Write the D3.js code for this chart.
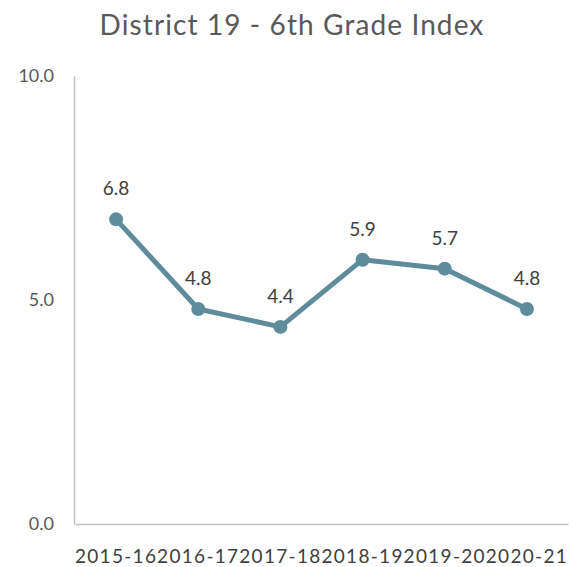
<!DOCTYPE html>
<html><head><meta charset="utf-8">
<script src="https://cdn.jsdelivr.net/npm/d3@7"></script>
<style>body{margin:0;background:#fff}svg{display:block}</style>
</head><body>
<svg id="chart" width="573" height="567"></svg>
<script>
const title = "District 19 - 6th Grade Index";
const categories = ["2015-16","2016-17","2017-18","2018-19","2019-20","2020-21"];
const values = [6.8, 4.8, 4.4, 5.9, 5.7, 4.8];
const yTicks = [0, 5, 10];

const svg = d3.select("#chart");
const font = "'Gill Sans','Gill Sans MT',Lato,'Open Sans',sans-serif";
const m = {left: 75, right: 5, top: 76, bottom: 43};
const W = 573, H = 567;
const x = d3.scaleBand().domain(categories).range([m.left, W - m.right]).padding(0);
const y = d3.scaleLinear().domain([0, 10]).range([H - m.bottom, m.top]);

svg.append("text").attr("x", 292).attr("y", 35).attr("text-anchor", "middle")
  .attr("font-family", font).attr("font-size", 28).attr("letter-spacing", 1.1)
  .attr("fill", "#595959").text(title);

const yAxis = svg.append("g").attr("transform", `translate(${m.left - 1},0)`)
  .call(d3.axisLeft(y).tickValues(yTicks).tickFormat(d3.format(".1f")).tickSize(0).tickPadding(20));
yAxis.select(".domain").attr("stroke", "#bfbfbf").attr("stroke-width", 1.5);
yAxis.selectAll("text").attr("font-family", font).attr("font-size", 18).attr("fill", "#595959");

const xAxis = svg.append("g").attr("transform", `translate(0,${H - m.bottom})`)
  .call(d3.axisBottom(x).tickSize(0).tickPadding(0));
xAxis.select(".domain").attr("stroke", "#bfbfbf").attr("stroke-width", 1.5);
xAxis.selectAll("text").attr("font-family", font).attr("font-size", 19)
  .attr("letter-spacing", 1.3).attr("fill", "#404040")
  .attr("dy", null).attr("y", 39);

const cx = d => x(d) + x.bandwidth() / 2;
const data = categories.map((c, i) => ({c, v: values[i]}));

svg.append("path").datum(data)
  .attr("fill", "none").attr("stroke", "#5e8c9b").attr("stroke-width", 5)
  .attr("stroke-linejoin", "round")
  .attr("d", d3.line().x(d => cx(d.c)).y(d => y(d.v)));

svg.selectAll("circle.pt").data(data).join("circle").attr("class", "pt")
  .attr("cx", d => cx(d.c)).attr("cy", d => y(d.v)).attr("r", 7).attr("fill", "#5e8c9b");

svg.selectAll("text.lbl").data(data).join("text").attr("class", "lbl")
  .attr("x", d => cx(d.c)).attr("y", d => y(d.v) - 24)
  .attr("text-anchor", "middle").attr("font-family", font).attr("font-size", 19)
  .attr("fill", "#404040").text(d => d3.format(".1f")(d.v));
</script>
</body></html>
